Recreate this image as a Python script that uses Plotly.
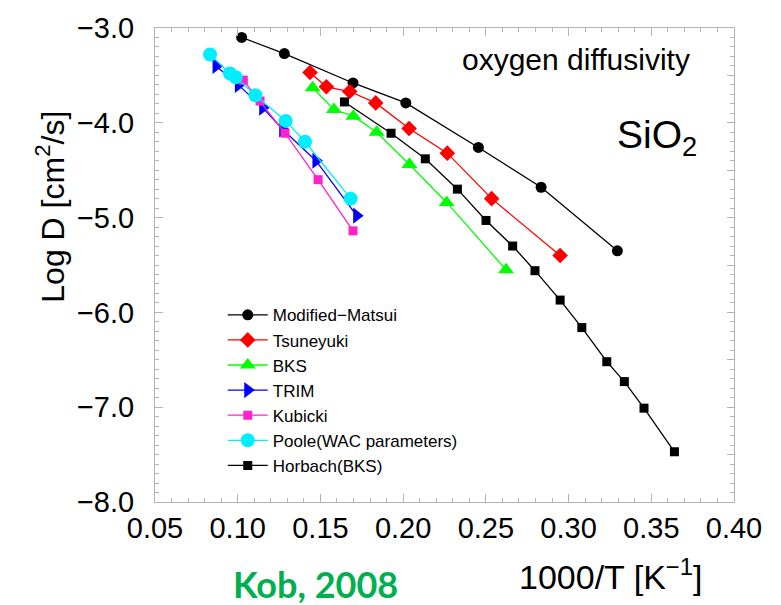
import plotly.graph_objects as go

# ---- data (1000/T [1/K], log D [cm^2/s]) ----
matsui_x = [0.1024, 0.1282, 0.1697, 0.2016, 0.2455, 0.2834, 0.3295]
matsui_y = [-3.10, -3.27, -3.58, -3.79, -4.26, -4.68, -5.35]

tsuneyuki_x = [0.1437, 0.1536, 0.1677, 0.1834, 0.2036, 0.2267, 0.2535, 0.2949]
tsuneyuki_y = [-3.47, -3.62, -3.67, -3.79, -4.06, -4.32, -4.80, -5.40]

bks_x = [0.1453, 0.1582, 0.1699, 0.1840, 0.2038, 0.2263, 0.2622]
bks_y = [-3.63, -3.86, -3.93, -4.10, -4.44, -4.84, -5.55]

trim_x = [0.0869, 0.1004, 0.1151, 0.1272, 0.1473, 0.1719]
trim_y = [-3.40, -3.60, -3.84, -4.07, -4.40, -4.98]

kubicki_x = [0.1034, 0.1135, 0.1286, 0.1486, 0.1697]
kubicki_y = [-3.55, -3.77, -4.11, -4.60, -5.14]

poole_x = [0.0833, 0.0953, 0.0988, 0.1107, 0.1290, 0.1407, 0.1683]
poole_y = [-3.28, -3.48, -3.52, -3.71, -3.98, -4.20, -4.80]

horbach_x = [0.1645, 0.1927, 0.2134, 0.2328, 0.2501, 0.2662, 0.2797,
             0.2949, 0.3080, 0.3231, 0.3337, 0.3456, 0.3640]
horbach_y = [-3.78, -4.11, -4.38, -4.70, -5.03, -5.30, -5.56,
             -5.87, -6.16, -6.52, -6.73, -7.01, -7.47]

series = [
    ("Modified\u2212Matsui", matsui_x, matsui_y, "#000000", "circle", 11),
    ("Tsuneyuki", tsuneyuki_x, tsuneyuki_y, "#ff0000", "diamond", 12),
    ("BKS", bks_x, bks_y, "#00ff00", "triangle-up", 14),
    ("TRIM", trim_x, trim_y, "#0000ff", "triangle-right", 14),
    ("Kubicki", kubicki_x, kubicki_y, "#ff22cc", "square", 9),
    ("Poole(WAC parameters)", poole_x, poole_y, "#00eeff", "circle", 14),
    ("Horbach(BKS)", horbach_x, horbach_y, "#000000", "square", 9),
]

FONT = "Liberation Sans, Arial, sans-serif"
FRAME = "#b4b4b4"

fig = go.Figure()
for name, xs, ys, col, sym, size in series:
    fig.add_trace(go.Scatter(
        x=xs, y=ys, name=name, mode="lines+markers",
        line=dict(color=col, width=1.3),
        marker=dict(color=col, symbol=sym, size=size, line=dict(width=0)),
    ))

# empty trace so the mirrored (top/right) tick axes are drawn
fig.add_trace(go.Scatter(x=[], y=[], xaxis="x2", yaxis="y2", showlegend=False,
                         hoverinfo="skip"))

axis_common = dict(
    showline=True, linecolor=FRAME, linewidth=1, mirror=True,
    ticks="inside", tickcolor=FRAME, ticklen=8, tickwidth=1,
    showgrid=False, zeroline=False,
    tickfont=dict(family=FONT, size=29, color="#000000"),
)

X_RANGE = [0.05, 0.40]
Y_RANGE = [-8.0, -3.0]

fig.update_layout(
    xaxis=dict(range=X_RANGE, dtick=0.05, tick0=0.05, tickformat=".2f",
               minor=dict(dtick=0.01, ticks="inside", ticklen=4, tickcolor=FRAME),
               **axis_common),
    yaxis=dict(range=Y_RANGE, dtick=1.0, tick0=-8.0, tickformat=".1f",
               minor=dict(dtick=0.1, ticks="inside", ticklen=4, tickcolor=FRAME),
               ticklabelstandoff=14, **axis_common),
    # mirrored tick marks on top and right
    xaxis2=dict(range=X_RANGE, overlaying="x", side="top", anchor="y2",
                dtick=0.05, tick0=0.05, ticks="inside", ticklen=8, tickcolor=FRAME,
                showticklabels=False, showgrid=False, zeroline=False, showline=False,
                minor=dict(dtick=0.01, ticks="inside", ticklen=4, tickcolor=FRAME)),
    yaxis2=dict(range=Y_RANGE, overlaying="y", side="right", anchor="x2",
                dtick=0.5, tick0=-8.0, ticks="inside", ticklen=7, tickcolor=FRAME,
                showticklabels=False, showgrid=False, zeroline=False, showline=False,
                minor=dict(dtick=0.1, ticks="inside", ticklen=4, tickcolor=FRAME)),
)

fig.update_layout(
    width=781, height=605,
    margin=dict(l=155, r=47, t=19, b=103),
    paper_bgcolor="white", plot_bgcolor="white",
    font=dict(family=FONT, color="#000000"),
    showlegend=True,
    legend=dict(
        x=0.117, y=0.432, xanchor="left", yanchor="top",
        bgcolor="rgba(0,0,0,0)", borderwidth=0,
        font=dict(family=FONT, size=17, color="#000000"),
        tracegroupgap=0, itemwidth=40,
    ),
    annotations=[
        dict(text="oxygen diffusivity", x=0.928, y=0.933, xref="paper", yref="paper",
             xanchor="right", yanchor="middle", showarrow=False,
             font=dict(family=FONT, size=30, color="#000000")),
        dict(text="SiO<sub>2</sub>", x=0.94, y=0.77, xref="paper", yref="paper",
             xanchor="right", yanchor="middle", showarrow=False,
             font=dict(family=FONT, size=39, color="#000000")),
        dict(text="Log D [cm<sup>2</sup>/s]", x=0, y=0.623, xref="paper", yref="paper",
             xanchor="center", yanchor="middle", xshift=-105, textangle=-90,
             showarrow=False, font=dict(family=FONT, size=32, color="#000000")),
        dict(text="1000/T [K<sup>\u22121</sup>]", x=0.786, y=0, xref="paper", yref="paper",
             xanchor="center", yanchor="middle", yshift=-72, showarrow=False,
             font=dict(family=FONT, size=34, color="#000000")),
        dict(text="<b>Kob, 2008</b>", x=0.277, y=0, xref="paper", yref="paper",
             xanchor="center", yanchor="middle", yshift=-82, showarrow=False,
             font=dict(family="Lato, Open Sans, sans-serif", size=36, color="#00b050")),
    ],
)

fig.write_html("out.html")
